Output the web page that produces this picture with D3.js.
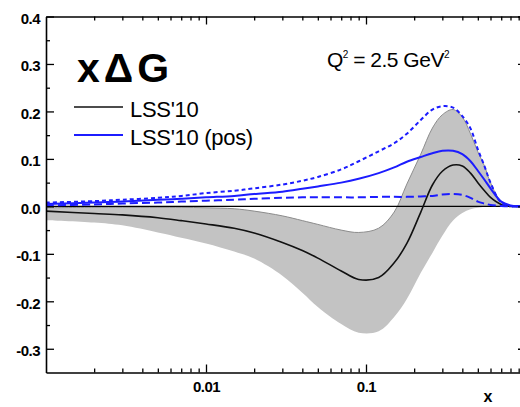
<!DOCTYPE html>
<html>
<head>
<meta charset="utf-8">
<script src="https://cdn.jsdelivr.net/npm/d3@7"></script>
<style>
  html, body { margin: 0; padding: 0; background: #fff; }
  svg { display: block; }
  text { font-family: "Liberation Sans", Arial, sans-serif; }
</style>
</head>
<body>
<svg id="chart" width="520" height="407"></svg>
<script>
// ---- data ----
const xGrid = [0.001, 0.002, 0.003, 0.005, 0.007, 0.01, 0.015, 0.02, 0.03, 0.04, 0.05, 0.07, 0.09,
               0.12, 0.15, 0.18, 0.22, 0.26, 0.3, 0.35, 0.4, 0.45, 0.5, 0.55, 0.6, 0.7, 0.8, 0.9, 1.0];
const lssCentral = [-0.010, -0.015, -0.018, -0.024, -0.030, -0.037, -0.046, -0.056, -0.076, -0.093, -0.109, -0.136, -0.154,
                    -0.150, -0.119, -0.078, -0.012, 0.045, 0.074, 0.087, 0.085, 0.070, 0.050, 0.033, 0.019, 0.004, 0.000, 0.000, 0.000];
const lssBandUpper = [-0.003, -0.002, -0.002, -0.002, -0.002, -0.003, -0.005, -0.010, -0.020, -0.030, -0.038, -0.050, -0.055,
                      -0.046, -0.012, 0.047, 0.110, 0.165, 0.193, 0.204, 0.188, 0.153, 0.115, 0.085, 0.050, 0.010, 0.002, 0.000, 0.000];
const lssBandLower = [-0.029, -0.034, -0.040, -0.055, -0.066, -0.078, -0.095, -0.110, -0.146, -0.182, -0.212, -0.248, -0.266,
                      -0.263, -0.233, -0.195, -0.140, -0.098, -0.062, -0.030, -0.014, -0.006, -0.003, -0.001, -0.001, 0.000, 0.000, 0.000, 0.000];
const posCentral = [0.005, 0.008, 0.010, 0.014, 0.016, 0.019, 0.022, 0.026, 0.031, 0.037, 0.042, 0.050, 0.058,
                    0.070, 0.082, 0.094, 0.104, 0.112, 0.117, 0.117, 0.110, 0.095, 0.075, 0.056, 0.038, 0.010, 0.002, 0.000, 0.000];
const posUpper = [0.008, 0.011, 0.014, 0.018, 0.022, 0.028, 0.033, 0.038, 0.046, 0.054, 0.062, 0.078, 0.095,
                  0.116, 0.133, 0.153, 0.182, 0.204, 0.211, 0.208, 0.190, 0.164, 0.120, 0.085, 0.050, 0.008, 0.001, 0.000, 0.000];
const posLower = [0.002, 0.004, 0.006, 0.008, 0.010, 0.012, 0.014, 0.016, 0.018, 0.019, 0.019, 0.019, 0.019,
                  0.020, 0.020, 0.020, 0.021, 0.022, 0.025, 0.026, 0.024, 0.018, 0.010, 0.006, 0.003, 0.001, 0.000, 0.000, 0.000];

const xMajorTicks = [0.01, 0.1];
const xMajorLabels = ["0.01", "0.1"];
const xMinorTicks = [0.002, 0.003, 0.004, 0.005, 0.006, 0.007, 0.008, 0.009,
                     0.02, 0.03, 0.04, 0.05, 0.06, 0.07, 0.08, 0.09,
                     0.2, 0.3, 0.4, 0.5, 0.6, 0.7, 0.8, 0.9];
const yMajorTicks = [-0.3, -0.2, -0.1, 0.0, 0.1, 0.2, 0.3, 0.4];
const yMajorLabels = ["-0.3", "-0.2", "-0.1", "0.0", "0.1", "0.2", "0.3", "0.4"];
const yMinorTicks = [-0.25, -0.15, -0.05, 0.05, 0.15, 0.25, 0.35];
const legendLabels = ["LSS'10", "LSS'10 (pos)"];

// ---- layout ----
const svg = d3.select("#chart");
const mLeft = 46, mRight = 526, mTop = 16.5, mBottom = 372.5;
const x = d3.scaleLog().domain([0.001, 1]).range([mLeft, mRight]);
const y = d3.scaleLinear().domain([-0.35, 0.4]).range([mBottom, mTop]);

svg.append("defs").append("clipPath").attr("id", "clip")
  .append("rect").attr("x", mLeft).attr("y", mTop).attr("width", mRight - mLeft).attr("height", mBottom - mTop);
const inner = svg.append("g").attr("clip-path", "url(#clip)");

const curve = d3.curveCatmullRom.alpha(0.5);

// band
const area = d3.area()
  .x((d, i) => x(xGrid[i]))
  .y0((d, i) => y(lssBandLower[i]))
  .y1((d, i) => y(lssBandUpper[i]))
  .curve(curve);
inner.append("path").datum(xGrid).attr("d", area).attr("fill", "#c3c3c3");

const lineOf = arr => d3.line().x((d, i) => x(xGrid[i])).y((d, i) => y(arr[i])).curve(curve)(xGrid);

inner.append("path").attr("d", lineOf(lssBandUpper)).attr("fill", "none").attr("stroke", "#8c8c8c").attr("stroke-width", 1);

// zero line
inner.append("line").attr("x1", mLeft).attr("x2", mRight).attr("y1", y(0)).attr("y2", y(0))
  .attr("stroke", "#000").attr("stroke-width", 1.3);

// central black
inner.append("path").attr("d", lineOf(lssCentral)).attr("fill", "none").attr("stroke", "#111").attr("stroke-width", 1.6);

// blue lines
const blue = "#1c1cff";
inner.append("path").attr("d", lineOf(posLower)).attr("fill", "none").attr("stroke", blue)
  .attr("stroke-width", 2).attr("stroke-dasharray", "8,4");
inner.append("path").attr("d", lineOf(posUpper)).attr("fill", "none").attr("stroke", blue)
  .attr("stroke-width", 2).attr("stroke-dasharray", "4,3");
inner.append("path").attr("d", lineOf(posCentral)).attr("fill", "none").attr("stroke", blue).attr("stroke-width", 2);

// ---- axes ----
function styleAxis(g) {
  g.select(".domain").attr("stroke", "#000").attr("stroke-width", 1.6);
  g.selectAll(".tick line").attr("stroke", "#000").attr("stroke-width", 1.3);
  g.selectAll("text").attr("font-family", "'Liberation Sans', Arial, sans-serif")
    .attr("font-weight", "bold").attr("font-size", 15).attr("letter-spacing", -0.5).attr("fill", "#000");
}
// bottom
const gb = svg.append("g").attr("transform", `translate(0,${mBottom})`)
  .call(d3.axisBottom(x).tickValues(xMajorTicks).tickFormat((d, i) => xMajorLabels[i]).tickSizeInner(-8).tickSizeOuter(0).tickPadding(9));
styleAxis(gb);
svg.append("g").attr("transform", `translate(0,${mBottom})`)
  .call(d3.axisBottom(x).tickValues(xMinorTicks).tickFormat("").tickSizeInner(-4).tickSizeOuter(0)).call(styleAxis)
  .select(".domain").remove();
// top
const gt = svg.append("g").attr("transform", `translate(0,${mTop})`)
  .call(d3.axisTop(x).tickValues(xMajorTicks).tickFormat("").tickSizeInner(-8).tickSizeOuter(0));
styleAxis(gt);
svg.append("g").attr("transform", `translate(0,${mTop})`)
  .call(d3.axisTop(x).tickValues(xMinorTicks).tickFormat("").tickSizeInner(-4).tickSizeOuter(0)).call(styleAxis)
  .select(".domain").remove();
// left
const gl = svg.append("g").attr("transform", `translate(${mLeft},0)`)
  .call(d3.axisLeft(y).tickValues(yMajorTicks).tickFormat((d, i) => yMajorLabels[i]).tickSizeInner(-8).tickSizeOuter(0).tickPadding(6));
styleAxis(gl);
gl.selectAll("text").attr("dy", "0.45em");
svg.append("g").attr("transform", `translate(${mLeft},0)`)
  .call(d3.axisLeft(y).tickValues(yMinorTicks).tickFormat("").tickSizeInner(-4).tickSizeOuter(0)).call(styleAxis)
  .select(".domain").remove();
// right
const gr = svg.append("g").attr("transform", `translate(${mRight},0)`)
  .call(d3.axisRight(y).tickValues(yMajorTicks).tickFormat("").tickSizeInner(-8).tickSizeOuter(0));
styleAxis(gr);
svg.append("g").attr("transform", `translate(${mRight},0)`)
  .call(d3.axisRight(y).tickValues(yMinorTicks).tickFormat("").tickSizeInner(-4).tickSizeOuter(0)).call(styleAxis)
  .select(".domain").remove();

// x axis title
svg.append("text").attr("x", 488).attr("y", 402).attr("text-anchor", "middle")
  .attr("font-weight", "bold").attr("font-size", 16).text("x");

// ---- annotations ----
svg.append("text").attr("x", 77).attr("y", 82).attr("font-weight", "bold").attr("font-size", 41)
  .attr("letter-spacing", 4).text("xΔG");

const q = svg.append("text").attr("x", 327).attr("y", 67).attr("font-size", 21).attr("letter-spacing", -0.5);
q.append("tspan").text("Q");
q.append("tspan").attr("font-size", 10).attr("dy", -9).text("2");
q.append("tspan").attr("dy", 9).text(" = 2.5 GeV");
q.append("tspan").attr("font-size", 10).attr("dy", -9).text("2");

// legend
const legendColors = ["#111", blue];
const legendWidths = [1.6, 2.2];
legendLabels.forEach((lab, i) => {
  const ly = 107 + i * 28;
  svg.append("line").attr("x1", 74).attr("x2", 123).attr("y1", ly).attr("y2", ly)
    .attr("stroke", legendColors[i]).attr("stroke-width", legendWidths[i]);
  svg.append("text").attr("x", 130).attr("y", ly + 10).attr("font-size", 22).attr("letter-spacing", -0.3)
    .text(lab);
});
</script>
</body>
</html>
